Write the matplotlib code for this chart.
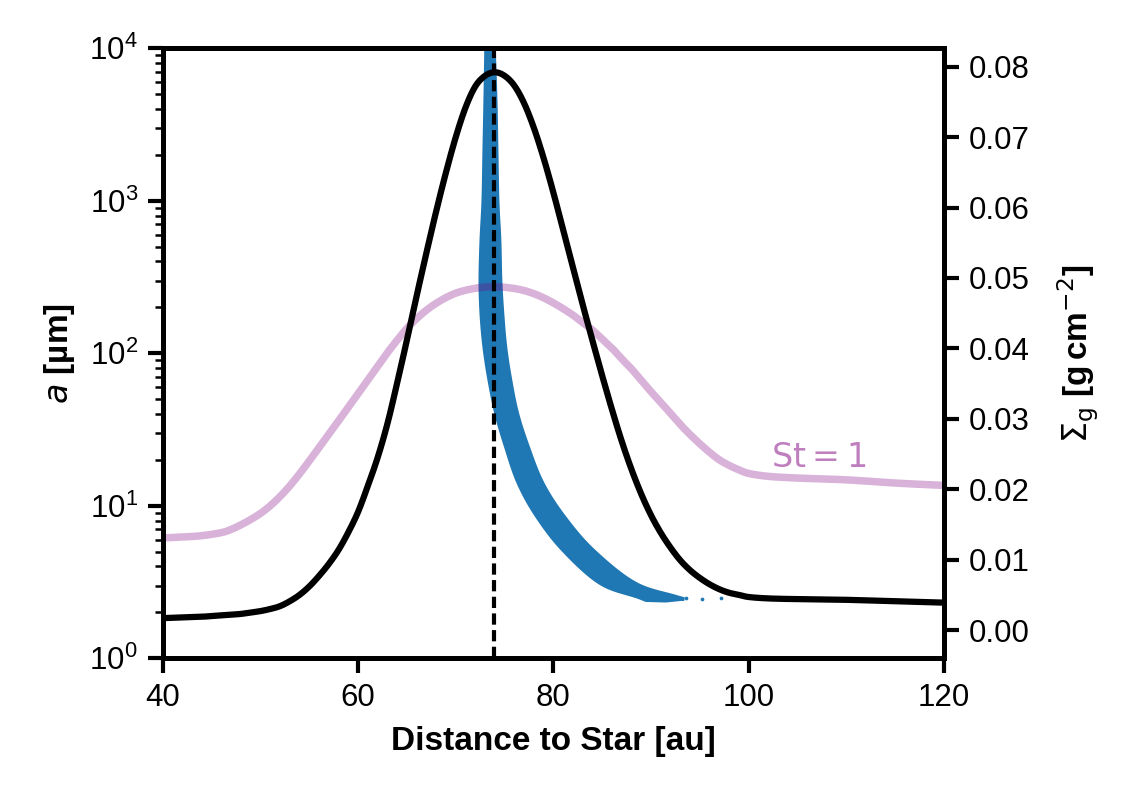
import numpy as np
import matplotlib
matplotlib.use('Agg')
import matplotlib.pyplot as plt
from matplotlib.ticker import MultipleLocator, FixedLocator

plt.rcParams['font.family'] = ['Liberation Sans', 'DejaVu Sans']
plt.rcParams['axes.linewidth'] = 1.2

# Distance grid [au] for the gas and St=1 curves
r_au = [40, 42, 44, 46, 47, 48, 49, 50, 51, 52, 53, 54, 55, 56, 57, 58, 59, 60,
        61, 62, 63, 64, 65, 66, 67, 68, 69, 70, 71, 72, 73, 74, 75, 76, 77, 78,
        79, 80, 81, 82, 83, 84, 85, 86, 87, 88, 89, 90, 91, 92, 93, 94, 95, 96,
        97, 98, 99, 100, 102, 105, 110, 115, 120]

# Gas surface density (right axis) [g cm^-2]
sigma_gas = [0.0017, 0.0018, 0.0019, 0.0021, 0.0022, 0.0023, 0.0025, 0.0027,
             0.0030, 0.0034, 0.0041, 0.0050, 0.0062, 0.0077, 0.0094, 0.0114,
             0.0139, 0.0168, 0.0205, 0.0245, 0.0293, 0.0351, 0.0412, 0.0475,
             0.0536, 0.0595, 0.0650, 0.0700, 0.0742, 0.0772, 0.0787, 0.0792,
             0.0787, 0.0773, 0.0748, 0.0713, 0.0670, 0.0621, 0.0568, 0.0515,
             0.0462, 0.0411, 0.0361, 0.0313, 0.0268, 0.0228, 0.0193, 0.0163,
             0.0138, 0.0117, 0.0099, 0.0085, 0.0074, 0.0065, 0.0058, 0.0053,
             0.0050, 0.0047, 0.0045, 0.0044, 0.0043, 0.0041, 0.0039]

# St = 1 particle size [um]
a_st1 = [6.15, 6.24, 6.37, 6.67, 7.0, 7.5, 8.13, 8.91, 10.0, 11.5, 13.5, 16.2,
         19.7, 24.1, 29.5, 36.1, 44.4, 54.5, 67, 82.4, 101, 122, 146, 169, 192,
         213, 232, 248, 259, 267, 272, 273, 271, 266, 258, 246, 231, 214, 196,
         178, 159, 142, 124, 108, 92, 79, 66.5, 56, 47.6, 40.3, 34.1, 29.3, 25.5,
         22.4, 20.0, 18.4, 17.2, 16.3, 15.6, 15.2, 14.8, 14.1, 13.6]

# Particle cloud envelope: size levels [um] and left/right x edges [au]
band_a = [11000, 4570, 2140, 1000, 550, 302, 182, 110, 67.6, 40.7, 24.5, 14.1,
          8.5, 5.1, 3.1, 2.5]
band_xl = [73.1, 73.0, 72.9, 72.8, 72.6, 72.5, 72.6, 72.9, 73.4, 74.1, 75.1,
           76.4, 78.3, 81.0, 84.8, 88.8]
band_xr = [73.9, 74.1, 74.2, 74.3, 74.5, 74.6, 74.8, 75.1, 75.6, 76.3, 77.4,
           78.9, 81.1, 84.1, 88.4, 92.9]
# lower tip of cloud
tip_x = [93.4, 91.5, 89.5]
tip_a = [2.45, 2.38, 2.4]
# sparse tail particles
tail_x = [93.6, 95.2, 97.2]
tail_a = [2.48, 2.46, 2.50]

r_peak = 73.9
st_label = (102.3, 17.9)


def smooth(u, v, n=12):
    """Catmull-Rom rendering through the given points (drawing only)."""
    u = np.asarray(u, float)
    v = np.asarray(v, float)
    P = np.column_stack([u, v])
    P = np.vstack([2 * P[0] - P[1], P, 2 * P[-1] - P[-2]])
    out = []
    t = np.linspace(0, 1, n, endpoint=False)[:, None]
    for i in range(1, len(P) - 2):
        p0, p1, p2, p3 = P[i - 1], P[i], P[i + 1], P[i + 2]
        seg = 0.5 * ((2 * p1) + (-p0 + p2) * t + (2 * p0 - 5 * p1 + 4 * p2 - p3) * t ** 2
                     + (-p0 + 3 * p1 - 3 * p2 + p3) * t ** 3)
        out.append(seg)
    out.append(P[-2][None, :])
    out = np.vstack(out)
    return out[:, 0], out[:, 1]


fig = plt.figure(figsize=(1130/300, 796/300), dpi=300)
ax = fig.add_axes([0.1441, 0.1730, 0.6913, 0.7663])
ax.set_yscale('log')
ax.set_xlim(40, 120)
ax.set_ylim(1, 1e4)

blue = '#1f77b4'
la = np.log10(band_a)
l_la, l_x = smooth(la, band_xl)
r_la, r_x = smooth(la, band_xr)
poly_x = list(r_x) + tip_x + list(l_x[::-1])
poly_a = list(10 ** r_la) + tip_a + list(10 ** l_la[::-1])
ax.fill(poly_x, poly_a, color=blue, lw=0.8, ec=blue, zorder=2)
ax.scatter(tail_x, tail_a, s=0.8, color=blue, lw=0, zorder=2)

sx, sla = smooth(r_au, np.log10(a_st1))
ax.plot(sx, 10 ** sla, color='purple', alpha=0.3, lw=1.8, zorder=3)
ax.text(st_label[0], st_label[1], r'$\mathrm{St}=1$', color='purple', alpha=0.5,
        fontsize=8, family='DejaVu Sans', zorder=3)

ax2 = ax.twinx()
gx, gy = smooth(r_au, sigma_gas)
ax2.plot(gx, gy, color='black', lw=1.5, zorder=3)
ax2.axvline(r_peak, color='black', lw=1.0, ls=(0, (2.7, 1.3)), zorder=4)
ax2.set_ylim(-0.004, 0.0826)
ax2.yaxis.set_major_locator(MultipleLocator(0.01))

ax.xaxis.set_major_locator(FixedLocator([40, 60, 80, 100, 120]))
for a in (ax, ax2):
    a.tick_params(which='major', length=3.5, width=1.0, labelsize=7.5, pad=2.5)
    a.tick_params(which='minor', length=2.0, width=0.6)
    for s in a.spines.values():
        s.set_linewidth(1.2)

ax.set_xlabel('Distance to Star [au]', fontweight='bold', fontsize=8, labelpad=3)
ax.set_ylabel(r'$a$ [µm]', fontweight='bold', fontsize=8, labelpad=3)
ax2.set_ylabel(r'$\Sigma_{\rm g}$ [g$\,$cm$^{-2}$]', fontweight='bold', fontsize=8, labelpad=6)

fig.savefig('out.png', dpi=300)
